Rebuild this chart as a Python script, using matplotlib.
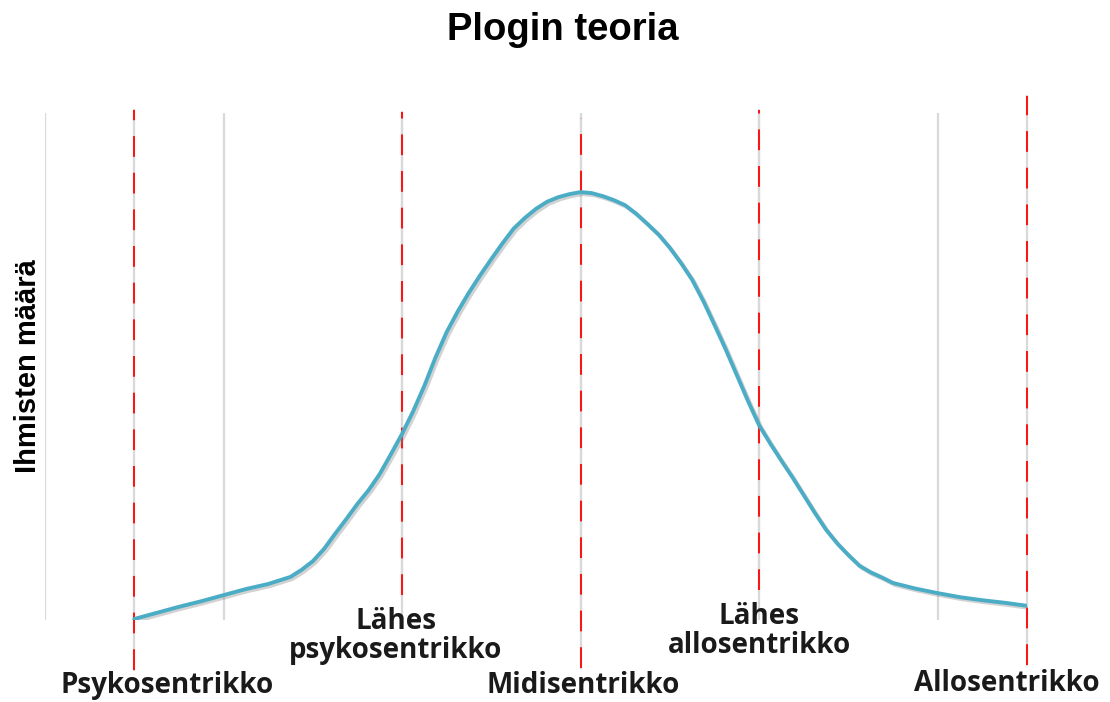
import matplotlib
matplotlib.use('Agg')
import matplotlib.pyplot as plt
import matplotlib.patheffects as pe

# curve (x in grid units, y as % of plot height)
curve_x = [1.0, 1.25, 1.5, 1.75, 2.0, 2.25, 2.5, 2.625, 2.75, 2.875,
           3.0, 3.125, 3.25, 3.375, 3.5, 3.625, 3.75, 3.875,
           4.0, 4.125, 4.25, 4.375, 4.5, 4.625, 4.75, 4.875,
           5.0, 5.125, 5.25, 5.375, 5.5, 5.625, 5.75, 5.875,
           6.0, 6.125, 6.25, 6.375, 6.5, 6.625, 6.75, 6.875,
           7.0, 7.125, 7.25, 7.375, 7.5, 7.625, 7.75, 7.875,
           8.0, 8.125, 8.25, 8.375, 8.5, 8.625, 8.75, 8.875,
           9.0, 9.125, 9.25, 9.375, 9.5, 9.75,
           10.0, 10.25, 10.5, 10.75, 11.0]
curve_y = [0.2, 1.4, 2.6, 3.7, 4.9, 6.1, 7.1, 7.8, 8.5, 9.9,
           11.6, 14.0, 17.0, 19.9, 22.9, 25.6, 28.8, 32.7,
           36.7, 41.2, 46.2, 51.8, 56.8, 60.9, 64.6, 68.0,
           71.2, 74.3, 77.2, 79.3, 81.1, 82.5, 83.4, 84.0,
           84.4, 84.2, 83.6, 82.8, 81.8, 80.1, 78.1, 76.0,
           73.4, 70.4, 67.1, 62.9, 58.2, 53.4, 48.3, 43.2,
           38.4, 34.8, 31.4, 28.1, 24.6, 21.1, 17.8, 15.1,
           12.8, 10.7, 9.4, 8.4, 7.3, 6.2,
           5.3, 4.5, 3.9, 3.4, 2.8]

# red marker lines: position, top, bottom
mark_x = [1, 4, 6, 8, 11]
mark_top = [100.6, 100.2, 99.0, 100.6, 103.4]
mark_bottom = [-9.9, 4.9, -9.5, 5.9, -8.9]

labels = ['Psykosentrikko', 'Lähes\npsykosentrikko', 'Midisentrikko',
          'Lähes\nallosentrikko', 'Allosentrikko']
label_x = [1.37, 3.93, 6.03, 8.0, 10.77]
label_y = [-12.9, -3.2, -13.0, -2.2, -12.5]

fig = plt.figure(figsize=(11.1, 7.02), dpi=100)
ax = fig.add_axes([0.0405, 0.1168, 0.8847, 0.7222])
ax.set_xlim(0, 11)
ax.set_ylim(0, 100)

ax.set_xticks(range(0, 11, 2))
ax.set_yticks([])
ax.tick_params(axis='x', length=0, labelbottom=False)
ax.grid(axis='x', color='#d9d9d9', linewidth=1.6)
ax.set_axisbelow(True)
for s in ax.spines.values():
    s.set_visible(False)

for x, t, b in zip(mark_x, mark_top, mark_bottom):
    ax.plot([x, x], [b, t], color='#d9d9d9', linewidth=1.6, clip_on=False, zorder=1)
    ax.plot([x, x], [b, t], color='#ff0000', linewidth=1.3,
            linestyle=(0, (11.5, 8.8)), clip_on=False, zorder=2)

ax.plot(curve_x, curve_y, color='#4bacc6', linewidth=2.8, zorder=3,
        solid_capstyle='round', solid_joinstyle='round',
        path_effects=[pe.SimpleLineShadow(offset=(1.5, -1.5), shadow_color='gray', alpha=0.35),
                      pe.Normal()])

for t, x, y in zip(labels, label_x, label_y):
    ax.text(x, y, t, ha='center', va='center', fontsize=20, fontweight='bold',
            family='Open Sans', color='#1a1a1a', linespacing=1.0, clip_on=False)

fig.text(0.507, 0.957, 'Plogin teoria', ha='center', va='center',
         fontsize=27.5, fontweight='bold', family='Liberation Sans')
fig.text(0.025, 0.478, 'Ihmisten määrä', ha='center', va='center', rotation=90,
         fontsize=21, fontweight='bold', family='Liberation Sans')

fig.savefig('out.png', dpi=100)
